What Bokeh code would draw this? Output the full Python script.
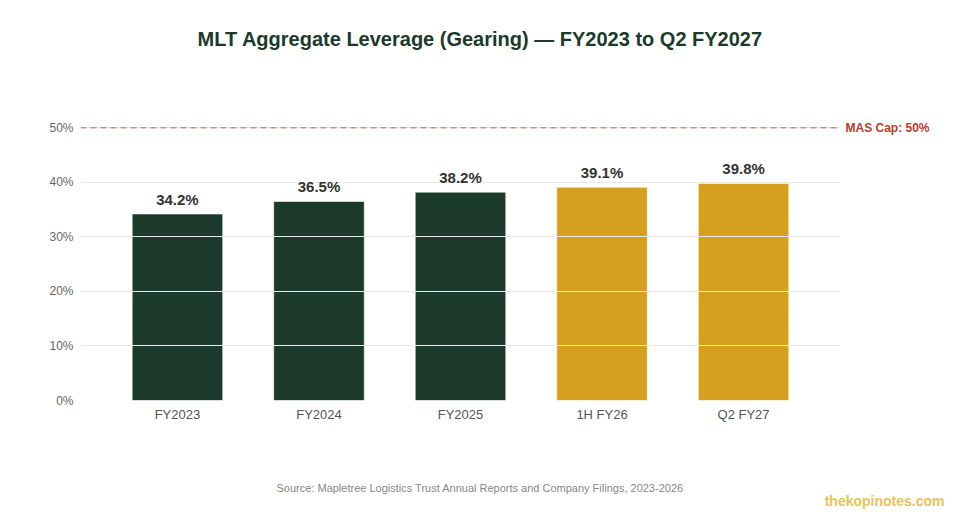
from bokeh.plotting import figure
from bokeh.models import (ColumnDataSource, FactorRange, Range1d, FixedTicker, Span,
                          Title, LinearAxis)
from bokeh.core.properties import value
from bokeh.embed import file_html
from bokeh.resources import INLINE

categories = ["FY2023", "FY2024", "FY2025", "1H FY26", "Q2 FY27"]
gearing = [34.2, 36.5, 38.2, 39.1, 39.8]
bar_colors = ["#1b3a2b", "#1b3a2b", "#1b3a2b", "#d4a01e", "#d4a01e"]
y_ticks = [0, 10, 20, 30, 40, 50]
y_tick_labels = ["0%", "10%", "20%", "30%", "40%", "50%"]
mas_cap = 50
mas_label = "MAS Cap: 50%"
title_text = "MLT Aggregate Leverage (Gearing) \u2014 FY2023 to Q2 FY2027"
source_text = "Source: Mapletree Logistics Trust Annual Reports and Company Filings, 2023-2026"
watermark = "thekopinotes.com"

FONT = "Liberation Sans"

src = ColumnDataSource(dict(
    cat=categories,
    val=gearing,
    color=bar_colors,
    lbl=[f"{v:.1f}%" for v in gearing],
))

p = figure(
    width=960, height=520,
    x_range=FactorRange(*categories, range_padding=0.074, range_padding_units="percent"),
    y_range=Range1d(0, 55),
    output_backend="svg", toolbar_location=None,
    min_border_left=80, min_border_right=120, min_border_top=100, min_border_bottom=120,
)
p.outline_line_color = None
p.background_fill_color = "white"
p.border_fill_color = "white"

bars = p.vbar(x="cat", top="val", width=0.64, source=src, fill_color="color",
              line_color="white", line_alpha=0.6, line_width=1)
bars.level = "underlay"

labels = p.text(x="cat", y="val", text="lbl", source=src, text_align="center",
                text_baseline="bottom", y_offset=-6, text_font=value(FONT),
                text_font_style="bold", text_font_size="15px", text_color="#333333")
labels.level = "annotation"

# axes
p.yaxis.ticker = FixedTicker(ticks=y_ticks)
p.yaxis.major_label_overrides = {t: l for t, l in zip(y_ticks, y_tick_labels)}
for ax in (p.xaxis[0], p.yaxis[0]):
    ax.axis_line_color = None
    ax.major_tick_line_color = None
    ax.minor_tick_line_color = None
    ax.major_tick_out = 0
    ax.major_tick_in = 0
    ax.minor_tick_out = 0
    ax.major_label_text_font = FONT
    ax.major_label_text_color = "#666666"
p.yaxis.major_label_text_font_size = "12px"
p.xaxis.major_label_text_font_size = "13px"
p.xaxis.major_label_text_color = "#555555"
p.xaxis.major_label_standoff = 6
p.yaxis.major_label_standoff = 7

p.xgrid.grid_line_color = None
p.ygrid.grid_line_color = "#e8e8e8"
p.ygrid.grid_line_width = 1
p.ygrid.level = "glyph"

cap = Span(location=mas_cap, dimension="width", line_color="#e06a5f",
           line_alpha=0.8, line_dash="6 4", line_width=1.5)
p.add_layout(cap)

cap_axis = LinearAxis(ticker=FixedTicker(ticks=[mas_cap]),
                      major_label_overrides={mas_cap: mas_label})
cap_axis.axis_line_color = None
cap_axis.major_tick_line_color = None
cap_axis.minor_tick_line_color = None
cap_axis.major_tick_out = 0
cap_axis.major_tick_in = 0
cap_axis.minor_tick_out = 0
cap_axis.major_label_standoff = 5
cap_axis.major_label_text_font = FONT
cap_axis.major_label_text_font_style = "bold"
cap_axis.major_label_text_font_size = "12px"
cap_axis.major_label_text_color = "#c0392b"
p.add_layout(cap_axis, "right")

# title (spacer between frame and title, then the title itself)
p.title.text = ""
p.add_layout(Title(text=" ", standoff=48, text_font_size="1px"), "above")
p.add_layout(Title(text=title_text, align="left", offset=117, standoff=0,
                   text_font=FONT, text_font_size="20px", text_font_style="bold",
                   text_color="#1b3a2b"), "above")

# spacer between axis and the source note
p.add_layout(Title(text=" ", standoff=52, text_font_size="1px"), "below")
p.add_layout(Title(text=source_text, align="left", offset=196, standoff=0,
                   text_font=FONT, text_font_size="11px", text_font_style="normal",
                   text_color="#888888"), "below")
p.add_layout(Title(text=watermark, align="right", offset=-104, standoff=-6,
                   text_font=FONT, text_font_size="14px", text_font_style="bold",
                   text_color="#e8c25a"), "below")

open("out.html", "w").write(file_html(p, INLINE))
